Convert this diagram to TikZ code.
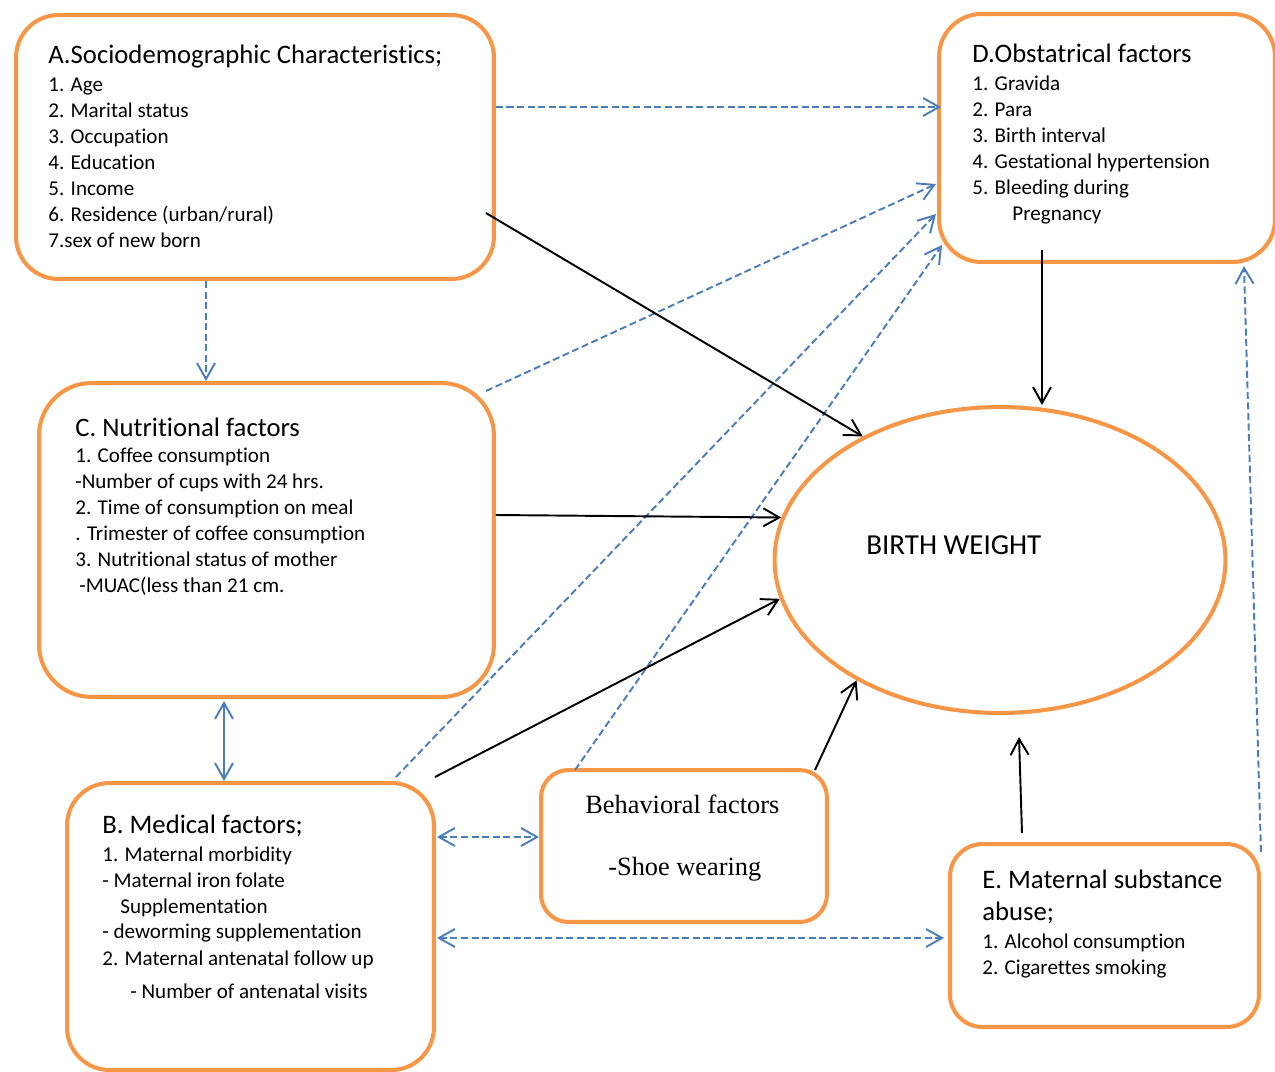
\documentclass[tikz,border=0pt]{standalone}
\usepackage{fontspec}
\setmainfont{Carlito}[Ligatures=NoCommon]
\newfontfamily\serifbox{Liberation Serif}
\usetikzlibrary{calc,positioning,arrows.meta,shapes.geometric}
\definecolor{boxorange}{HTML}{F79646}
\definecolor{linkblue}{HTML}{4A7EBB}
\tikzset{
  factor/.style={draw=boxorange,line width=2.3pt,rounded corners=0.85cm,anchor=north west,inner sep=0pt},
  heading/.style={anchor=base west,inner sep=0pt,font=\fontsize{15.2}{18}\selectfont},
  item/.style={anchor=base west,inner sep=0pt,font=\fontsize{12}{14.5}\selectfont},
  barb/.tip={Straight Barb[length=3.2mm,width=3.6mm]},
  effect/.style={draw,line width=1.1pt,-barb},
  link/.style={draw=linkblue,line width=1.1pt,dash pattern=on 4pt off 2pt,-barb},
  linkboth/.style={link,barb-barb},
}
\begin{document}
\begin{tikzpicture}[x=0.02cm,y=-0.02cm]
\useasboundingbox (0,0) rectangle (1275,1072);

% boxes
\node[factor,minimum width=9.56cm,minimum height=5.28cm] (A) at (14,13) {};
\node[factor,minimum width=6.72cm,minimum height=4.96cm] (D) at (937,12) {};
\node[factor,rounded corners=1.05cm,minimum width=9.10cm,minimum height=6.28cm] (C) at (37,381) {};
\node[factor,minimum width=7.34cm,minimum height=5.74cm] (B) at (65,781) {};
\node[factor,rounded corners=0.55cm,minimum width=5.72cm,minimum height=3.04cm] (Bh) at (539,768) {};
\node[factor,rounded corners=0.65cm,minimum width=6.18cm,minimum height=3.66cm] (E) at (948,842) {};
\node[draw=boxorange,line width=2.3pt,ellipse,minimum width=9.02cm,minimum height=6.12cm,inner sep=0pt] (bw) at (1000,560) {};

% texts
\node[heading] (Ahead) at (48,63) {A.Sociodemographic Characteristics;};
\foreach \t [count=\i] in {1. Age,2. Marital status,3. Occupation,4. Education,5. Income,{6. Residence (urban/rural)},7.sex of new born}
  \node[item] (A\i) at (48,{91+26*(\i-1)}) {\t};

\node[heading] (Dhead) at (972,62) {D.Obstatrical factors};
\foreach \t [count=\i] in {1. Gravida,2. Para,3. Birth interval,4. Gestational hypertension,5. Bleeding during}
  \node[item] (D\i) at (972,{90+26*(\i-1)}) {\t};
\node[item] (D6) at (1012,220) {Pregnancy};

\node[heading] (Chead) at (75,436) {C. Nutritional factors};
\foreach \t [count=\i] in {1. Coffee consumption,-Number of cups with 24 hrs.,2. Time of consumption on meal,. Trimester of coffee consumption,3. Nutritional status of mother}
  \node[item] (C\i) at (75,{462+26*(\i-1)}) {\t};
\node[item] (C6) at (79,592) {-MUAC(less than 21 cm.};

\node[heading] (Bhead) at (102,833) {B. Medical factors;};
\node[item] (B1) at (102,861) {1. Maternal morbidity};
\node[item] (B2) at (102,887) {- Maternal iron folate};
\node[item] (B3) at (120,913) {Supplementation};
\node[item] (B4) at (102,938) {- deworming supplementation};
\node[item] (B5) at (102,965) {2. Maternal antenatal follow up};
\node[item] (B6) at (130,998) {- Number of antenatal visits};

\node[anchor=base west,inner sep=0pt,font=\serifbox\fontsize{15}{18}\selectfont] (Bhhead) at (585,813) {Behavioral factors};
\node[anchor=base west,inner sep=0pt,font=\serifbox\fontsize{15}{18}\selectfont] (Bh1) at (608,875) {-Shoe wearing};

\node[heading] (Ehead) at (982,888) {E. Maternal substance};
\node[heading] (Ehead2) at (982,920) {abuse;};
\node[item] (E1) at (982,948) {1. Alcohol consumption};
\node[item] (E2) at (982,974) {2. Cigarettes smoking};

\node[heading,font=\fontsize{16.5}{19}\selectfont] (bwtext) at (866,554) {BIRTH WEIGHT};

% dashed links
\draw[link] ($(A.north east)+(0,94)$) -- ($(D.north west)+(4,95)$);
\coordinate (a1) at ($(A.south west)+(192,0)$);
\draw[link] (a1) -- (a1 |- C.north);
\draw[link] ($(C.north east)+(-10,10)$) -- ($(D.north west)+(-1,172)$);
\draw[link] ($(B.north east)+(-40,-4)$) -- ($(D.north west)+(-1,202)$);
\draw[link] ($(Bh.north west)+(36,2)$) -- ($(D.north west)+(5,233)$);
\coordinate (b1) at ($(B.north east)+(1,56)$);
\draw[linkboth] (b1) -- (b1 -| Bh.west);
\coordinate (b2) at ($(B.north east)+(1,157)$);
\draw[linkboth] (b2) -- ($(b2 -| E.west)+(-4,0)$);
\draw[link] ($(E.north east)+(0,10)$) -- ($(D.south east)+(-33,2)$);
\coordinate (c1) at ($(C.south west)+(187,2)$);
\draw[linkboth,solid] (c1) -- (c1 |- B.north);

% effects on birth weight
\draw[effect] ($(A.north east)+(-10,200)$) -- (bw.138);
\draw[effect] ($(C.north east)+(0,134)$) -- (bw.169);
\draw[effect] ($(B.north east)+(-1,-4)$) -- (bw.190);
\draw[effect] ($(Bh.north east)+(-14,2)$) -- (bw.220);
\coordinate (d1) at ($(D.south west)+(105,-14)$);
\draw[effect] (d1) -- (d1 |- bw.north);
\draw[effect] ($(E.north west)+(74,-9)$) -- ($(bw.south)+(19,22)$);
\end{tikzpicture}
\end{document}
